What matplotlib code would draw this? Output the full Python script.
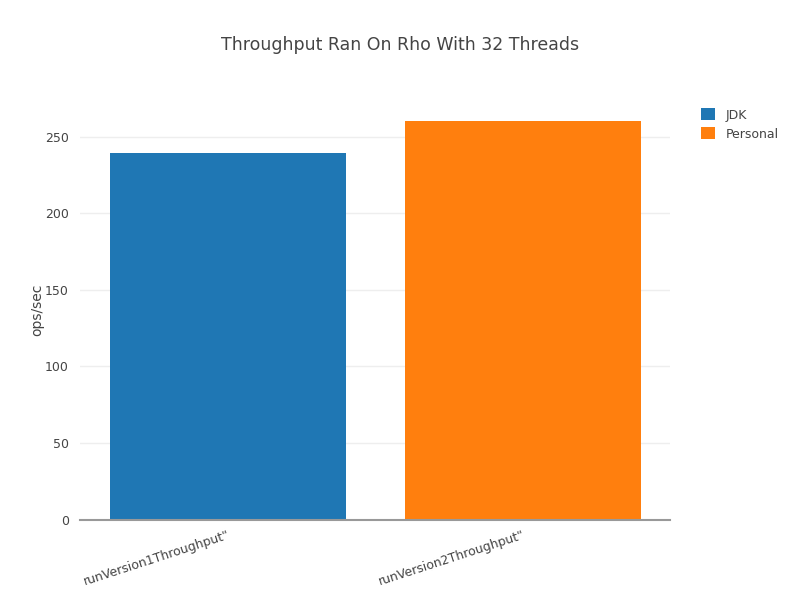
import matplotlib.pyplot as plt
from matplotlib.patches import Patch

categories = ['runVersion1Throughput"', 'runVersion2Throughput"']
series = ['JDK', 'Personal']
values = [239.1, 260.0]
colors = ['#1f77b4', '#ff7f0e']

plt.rcParams['font.family'] = ['DejaVu Sans']

fig = plt.figure(figsize=(8, 6), dpi=100)
ax = fig.add_axes([0.1, 0.134, 0.7375, 0.699])

x = list(range(len(categories)))
ax.bar(x, values, width=0.8, color=colors, zorder=2)

ax.set_xlim(-0.5, 1.5)
ax.set_ylim(0, 273.7)
ax.set_yticks([0, 50, 100, 150, 200, 250])
ax.yaxis.grid(True, color='#eeeeee', linewidth=1, zorder=0)
ax.set_xticks(x)
ax.set_xticklabels(categories, rotation=18, ha='right', rotation_mode='anchor')
ax.tick_params(axis='both', length=0, labelsize=9, colors='#444444')
ax.tick_params(axis='x', pad=6)
ax.tick_params(axis='y', pad=8)

for side in ['top', 'right', 'left']:
    ax.spines[side].set_visible(False)
ax.spines['bottom'].set_color('#999999')
ax.spines['bottom'].set_linewidth(1.5)
ax.spines['bottom'].set_zorder(3)

ax.set_ylabel('ops/sec', fontsize=10, color='#444444', labelpad=0)
ax.yaxis.set_label_coords(-0.06, 0.5)
fig.text(0.5, 0.925, 'Throughput Ran On Rho With 32 Threads', ha='center', va='center',
         fontsize=12.5, color='#444444')

handles = [Patch(facecolor=c, label=s) for c, s in zip(colors, series)]
fig.legend(handles=handles, loc='upper left', bbox_to_anchor=(0.862, 0.838), frameon=False,
           fontsize=9, handlelength=1.1, handleheight=1.1, handletextpad=0.9, labelspacing=0.45,
           labelcolor='#444444')

fig.savefig('out.png', dpi=100)
